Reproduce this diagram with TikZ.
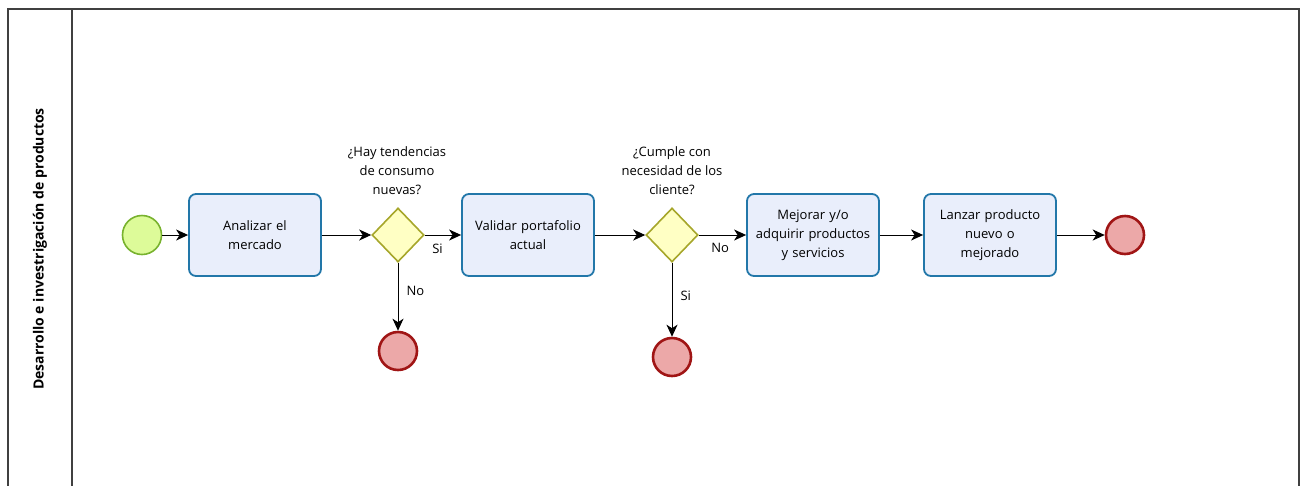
\documentclass[tikz,border=0pt]{standalone}
\usepackage{fontspec}
\setmainfont{Open Sans}
\usetikzlibrary{shapes.geometric,arrows.meta}
\definecolor{taskfill}{HTML}{E9EEFB}
\definecolor{taskline}{HTML}{2277A9}
\definecolor{gwfill}{HTML}{FFFFC4}
\definecolor{gwline}{HTML}{A6A62A}
\definecolor{startfill}{HTML}{DDFB99}
\definecolor{startline}{HTML}{78B22E}
\definecolor{endfill}{HTML}{ECA8A8}
\definecolor{endline}{HTML}{A01515}
\tikzset{
  every node/.style={font=\fontsize{13}{19}\selectfont, text=black},
  task/.style={draw=taskline, fill=taskfill, line width=1.8pt, rounded corners=7pt,
    minimum width=132pt, minimum height=82pt, align=center, text width=128pt, inner sep=0pt},
  gateway/.style={diamond, draw=gwline, fill=gwfill, line width=1.6pt,
    minimum width=52pt, minimum height=54pt, inner sep=0pt, aspect=1},
  startev/.style={circle, draw=startline, fill=startfill, line width=1.6pt, minimum size=39pt, inner sep=0pt},
  endev/.style={circle, draw=endline, fill=endfill, line width=2.6pt, minimum size=38pt, inner sep=0pt},
  flow/.style={draw=black, line width=1pt, -{Stealth[length=12pt,width=11pt,inset=3.5pt]}},
  question/.style={align=center, inner sep=0pt},
  lbl/.style={inner sep=0pt}
}
\begin{document}
\begin{tikzpicture}[x=1pt,y=-1pt]
\useasboundingbox (0,0) rectangle (1305,485);
% pool and lane header
\begin{scope}
\clip (0,0) rectangle (1305,485);
\draw[black!75, line width=1.1pt] (8,9) rectangle (1299,500);
\draw[black!75, line width=1.1pt] (72,9) -- (72,500);
\end{scope}
\node[rotate=90, font=\fontsize{14}{16}\selectfont\bfseries] (lane) at (40,249) {Desarrollo e investrigación de productos};

% events, tasks and gateways
\node[startev] (start) at (142,235) {};
\node[task] (t1) at (255,235) {Analizar el\\mercado};
\node[gateway] (g1) at (398,235) {};
\node[question, anchor=south] (q1) at (397,195) {¿Hay tendencias\\de consumo\\nuevas?};
\node[endev] (e1) at (398,351) {};
\node[task] (t2) at (528,235) {Validar portafolio\\actual};
\node[gateway] (g2) at (672,235) {};
\node[question, anchor=south] (q2) at (672,195) {¿Cumple con\\necesidad de los\\cliente?};
\node[endev] (e2) at (672,357) {};
\node[task] (t3) at (813,235) {Mejorar y/o\\adquirir productos\\y servicios};
\node[task] (t4) at (990,235) {Lanzar producto\\nuevo o\\mejorado};
\node[endev] (e3) at (1125,235) {};

% sequence flows
\draw[flow] (start) -- (t1);
\draw[flow] (t1) -- (g1);
\draw[flow] (g1) -- node[lbl, pos=0.35, below=8pt] (s1) {Si} (t2);
\draw[flow] (g1) -- node[lbl, pos=0.42, right=8pt] (n1) {No} (e1);
\draw[flow] (t2) -- (g2);
\draw[flow] (g2) -- node[lbl, pos=0.45, below=8pt] (n2) {No} (t3);
\draw[flow] (g2) -- node[lbl, pos=0.45, right=8pt] (s2) {Si} (e2);
\draw[flow] (t3) -- (t4);
\draw[flow] (t4) -- (e3);
\end{tikzpicture}
\end{document}
